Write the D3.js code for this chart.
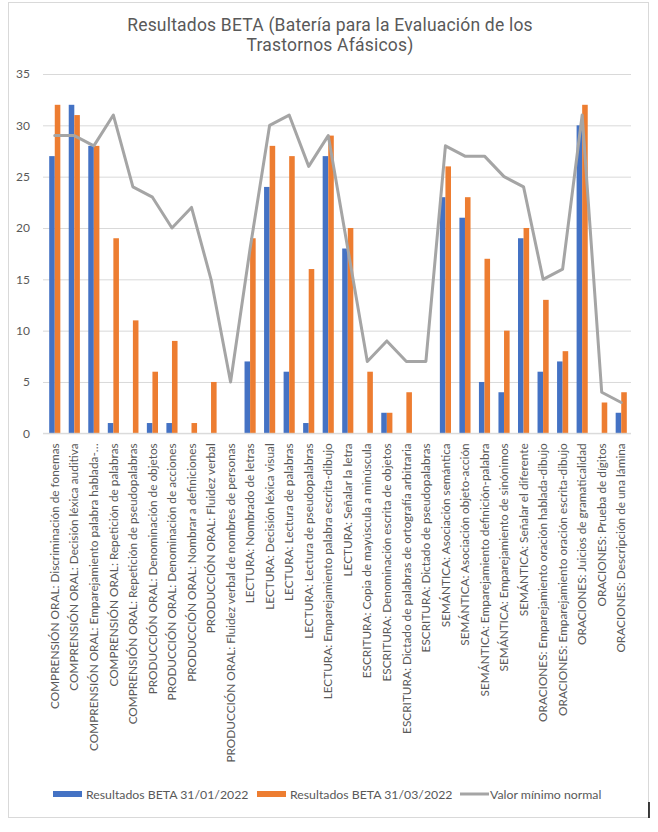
<!DOCTYPE html>
<html>
<head>
<meta charset="utf-8">
<script src="https://cdn.jsdelivr.net/npm/d3@7"></script>
<style>
  html, body { margin: 0; padding: 0; background: #fff; }
  svg { display: block; }
</style>
</head>
<body>
<svg id="chart" width="658" height="832"></svg>
<script>
const categories = [
  "COMPRENSIÓN ORAL: Discriminación de fonemas",
  "COMPRENSIÓN ORAL: Decisión léxica auditiva",
  "COMPRENSIÓN ORAL: Emparejamiento palabra hablada-…",
  "COMPRENSIÓN ORAL: Repetición de palabras",
  "COMPRENSIÓN ORAL: Repetición de pseudopalabras",
  "PRODUCCIÓN ORAL: Denominación de objetos",
  "PRODUCCIÓN ORAL: Denominación de acciones",
  "PRODUCCIÓN ORAL: Nombrar a definiciones",
  "PRODUCCIÓN ORAL: Fluidez verbal",
  "PRODUCCIÓN ORAL: Fluidez verbal de nombres de personas",
  "LECTURA: Nombrado de letras",
  "LECTURA: Decisión léxica visual",
  "LECTURA: Lectura de palabras",
  "LECTURA: Lectura de pseudopalabras",
  "LECTURA: Emparejamiento palabra escrita-dibujo",
  "LECTURA: Señalar la letra",
  "ESCRITURA: Copia de mayúscula a minúscula",
  "ESCRITURA: Denominación escrita de objetos",
  "ESCRITURA: Dictado de palabras de ortografía arbitraria",
  "ESCRITURA: Dictado de pseudopalabras",
  "SEMÁNTICA: Asociación semántica",
  "SEMÁNTICA: Asociación objeto-acción",
  "SEMÁNTICA: Emparejamiento definición-palabra",
  "SEMÁNTICA: Emparejamiento de sinónimos",
  "SEMÁNTICA: Señalar el diferente",
  "ORACIONES: Emparejamiento oración hablada-dibujo",
  "ORACIONES: Emparejamiento oración escrita-dibujo",
  "ORACIONES: Juicios de gramaticalidad",
  "ORACIONES: Prueba de dígitos",
  "ORACIONES: Descripción de una lámina"
];
const beta0131 = [27,32,28,1,0,1,1,0,0,0,7,24,6,1,27,18,0,2,0,0,23,21,5,4,19,6,7,30,0,2];
const beta0331 = [32,31,28,19,11,6,9,1,5,0,19,28,27,16,29,20,6,2,4,0,26,23,17,10,20,13,8,32,3,4];
const minNormal = [29,29,28,31,24,23,20,22,15,5,18,30,31,26,29,18,7,9,7,7,28,27,27,25,24,15,16,31,4,3];
const yTicks = [0,5,10,15,20,25,30,35];
const seriesNames = ["Resultados BETA 31/01/2022", "Resultados BETA 31/03/2022", "Valor mínimo normal"];
const titleLines = ["Resultados BETA (Batería para la Evaluación de los", "Trastornos Afásicos)"];

const colors = ["#4472C4", "#ED7D31", "#A5A5A5"];
const textColor = "#595959";
const gridColor = "#d9d9d9";
const labelFont = "Lato, 'Open Sans', sans-serif";

const svg = d3.select("#chart");

// chart frame
svg.append("rect")
  .attr("x", 8.5).attr("y", 2.5).attr("width", 640).attr("height", 815)
  .attr("fill", "#fff").attr("stroke", gridColor).attr("stroke-width", 1);

// title
svg.append("g").selectAll("text").data(titleLines).join("text")
  .attr("x", 330).attr("y", (d, i) => 31 + i * 20)
  .attr("text-anchor", "middle")
  .attr("font-family", "Roboto, sans-serif")
  .attr("font-size", 17.5)
  .attr("letter-spacing", 0.2)
  .attr("fill", textColor)
  .text(d => d);

const plotLeft = 43, plotRight = 631;
const y = d3.scaleLinear().domain([0, 35]).range([433.3, 74]);
const x = d3.scaleBand().domain(d3.range(categories.length)).range([45, 631]).paddingInner(0).paddingOuter(0);
const bw = x.bandwidth();
const barW = bw * 0.285;

// y axis + gridlines
const yAxis = svg.append("g")
  .attr("transform", `translate(${plotLeft},0)`)
  .call(d3.axisLeft(y).tickValues(yTicks).tickSize(-(plotRight - plotLeft)).tickPadding(13));
yAxis.select(".domain").remove();
yAxis.selectAll(".tick line").attr("stroke", gridColor).attr("stroke-width", 1);
yAxis.selectAll(".tick text")
  .attr("fill", textColor)
  .attr("font-family", labelFont)
  .attr("font-size", 12);

// bars
const barsG = svg.append("g");
[beta0131, beta0331].forEach((vals, s) => {
  barsG.append("g").selectAll("rect").data(vals).join("rect")
    .attr("x", (d, i) => x(i) + bw / 2 - barW + s * barW)
    .attr("y", d => y(d))
    .attr("width", barW)
    .attr("height", d => y(0) - y(d))
    .attr("fill", colors[s]);
});

// x axis
const xAxis = svg.append("g")
  .attr("transform", `translate(0,${y(0)})`)
  .call(d3.axisBottom(x).tickSize(0).tickFormat(i => categories[i]));
xAxis.select(".domain").attr("stroke", gridColor).attr("d", `M${plotLeft},0H${plotRight}`);
xAxis.selectAll(".tick text")
  .attr("transform", "rotate(-90)")
  .attr("text-anchor", "end")
  .attr("x", -10)
  .attr("y", 0)
  .attr("dy", "0.35em")
  .attr("fill", textColor)
  .attr("font-family", labelFont)
  .attr("font-size", 11.8);

// line
const line = d3.line()
  .x((d, i) => x(i) + bw / 2)
  .y(d => y(d));
svg.append("path")
  .datum(minNormal)
  .attr("d", line)
  .attr("fill", "none")
  .attr("stroke", colors[2])
  .attr("stroke-width", 3)
  .attr("stroke-linejoin", "round")
  .attr("stroke-linecap", "round");

// legend
const legend = svg.append("g").attr("font-family", labelFont).attr("font-size", 12.3).attr("fill", textColor);
const legendItems = [
  { sx: 53, tx: 86, type: "rect" },
  { sx: 257, tx: 290, type: "rect" },
  { sx: 460, tx: 490, type: "line" }
];
legendItems.forEach((it, i) => {
  if (it.type === "rect") {
    legend.append("rect").attr("x", it.sx).attr("y", 791).attr("width", 29).attr("height", 6).attr("fill", colors[i]);
  } else {
    legend.append("line").attr("x1", it.sx).attr("x2", it.sx + 29).attr("y1", 794).attr("y2", 794)
      .attr("stroke", colors[i]).attr("stroke-width", 3);
  }
  legend.append("text").attr("x", it.tx).attr("y", 798.5).text(seriesNames[i]);
});

// small cursor mark at bottom right
svg.append("line").attr("x1", 649).attr("x2", 649).attr("y1", 802).attr("y2", 818)
  .attr("stroke", "#000").attr("stroke-width", 1.5);
</script>
</body>
</html>
